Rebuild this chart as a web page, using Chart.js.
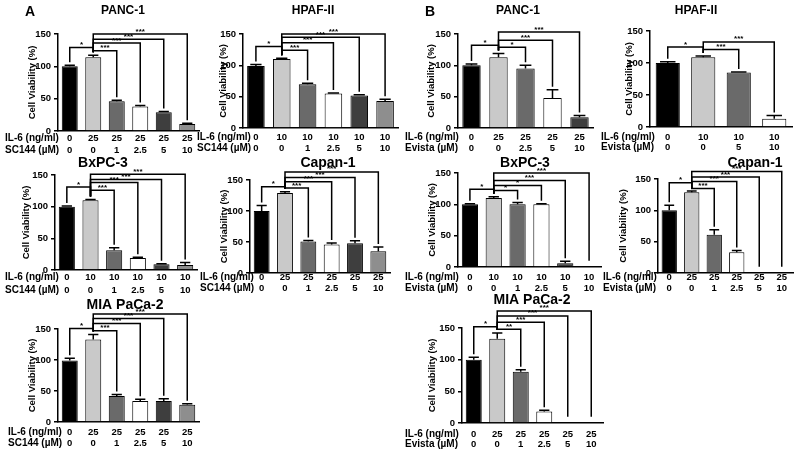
<!DOCTYPE html>
<html><head><meta charset="utf-8">
<script src="https://cdn.jsdelivr.net/npm/chart.js@4"></script>
<style>
html,body{margin:0;padding:0;background:#fff;}
#wrap{position:relative;width:800px;height:453px;overflow:hidden;background:#fff;}
#wrap canvas{position:absolute;left:0;top:0;}
</style></head><body><div id="wrap"></div>
<script>
// ---------- DATA ----------
// Panel A : SC144
const aPanc1Il6 = ['0','25','25','25','25','25'];
const aPanc1Drug = ['0','0','1','2.5','5','10'];
const aPanc1Mean = [100,114,46,38,29,11];
const aPanc1Err = [1.5,3,1.5,1.5,1,1];
const aPanc1SigPairs = [[0,1],[1,2],[1,3],[1,4],[1,5]];
const aPanc1SigLevels = [129,124,136,142,150];
const aPanc1SigLabels = ['*','***','***','***','***'];

const aHpafIl6 = ['0','10','10','10','10','10'];
const aHpafDrug = ['0','0','1','2.5','5','10'];
const aHpafMean = [99,110,70,55,52,43];
const aHpafErr = [2.5,1.5,1.5,1,1,3];
const aHpafSigPairs = [[0,1],[1,2],[1,3],[1,4],[1,5]];
const aHpafSigLevels = [130,124,136,145,150];
const aHpafSigLabels = ['*','***','***','***','***'];

const aBxpcIl6 = ['0','10','10','10','10','10'];
const aBxpcDrug = ['0','0','1','2.5','5','10'];
const aBxpcMean = [100,110,31,19,9,8];
const aBxpcErr = [1,1.5,4,1,1,4];
const aBxpcSigPairs = [[0,1],[1,2],[1,3],[1,4],[1,5]];
const aBxpcSigLevels = [131,126,138,143,151];
const aBxpcSigLabels = ['*','***','***','***','***'];

const aCapanIl6 = ['0','25','25','25','25','25'];
const aCapanDrug = ['0','0','1','2.5','5','10'];
const aCapanMean = [100,129,51,46,48,35];
const aCapanErr = [9,2,1.5,2.5,4,7];
const aCapanSigPairs = [[0,1],[1,2],[1,3],[1,4],[1,5]];
const aCapanSigLevels = [139,137,147,154,163];
const aCapanSigLabels = ['*','***','***','***','***'];

const aMiaIl6 = ['0','25','25','25','25','25'];
const aMiaDrug = ['0','0','1','2.5','5','10'];
const aMiaMean = [99,133,42,34,34,28];
const aMiaErr = [4,8,2.5,2.5,3.5,1.5];
const aMiaSigPairs = [[0,1],[1,2],[1,3],[1,4],[1,5]];
const aMiaSigLevels = [151,147,159,167,174];
const aMiaSigLabels = ['*','***','***','***','***'];

// Panel B : Evista
const bPanc1Il6 = ['0','25','25','25','25'];
const bPanc1Drug = ['0','0','2.5','5','10'];
const bPanc1Mean = [100,113,95,48,17];
const bPanc1Err = [2,6,5,13,3];
const bPanc1SigPairs = [[0,1],[1,2],[1,3],[1,4]];
const bPanc1SigLevels = [132,129,140,153];
const bPanc1SigLabels = ['*','*','***','***'];

const bHpafIl6 = ['0','10','10','10'];
const bHpafDrug = ['0','0','5','10'];
const bHpafMean = [100,109,85,13];
const bHpafErr = [2,2,1,5];
const bHpafSigPairs = [[0,1],[1,2],[1,3]];
const bHpafSigLevels = [125,121,133];
const bHpafSigLabels = ['*','***','***'];

const bBxpcIl6 = ['0','10','10','10','10','10'];
const bBxpcDrug = ['0','0','1','2.5','5','10'];
const bBxpcMean = [100,110,100,100,6,0];
const bBxpcErr = [1,2,3,1,3,0];
const bBxpcSigPairs = [[0,1],[1,2],[1,3],[1,4],[1,5]];
const bBxpcSigLevels = [124,122,130,138,150];
const bBxpcSigLabels = ['*','*','*','***','***'];

const bCapanIl6 = ['0','25','25','25','25','25'];
const bCapanDrug = ['0','0','1','2.5','5','10'];
const bCapanMean = [100,129,61,33,0,0];
const bCapanErr = [8,2,8,3,0,0];
const bCapanSigPairs = [[0,1],[1,2],[1,3],[1,4],[1,5]];
const bCapanSigLevels = [144,135,146,153,162];
const bCapanSigLabels = ['*','***','***','***','***'];

const bMiaIl6 = ['0','25','25','25','25','25'];
const bMiaDrug = ['0','0','1','2.5','5','10'];
const bMiaMean = [100,133,81,18,0,0];
const bMiaErr = [4,9,3,2,0,0];
const bMiaSigPairs = [[0,1],[1,2],[1,3],[1,4],[1,5]];
const bMiaSigLevels = [152,148,159,169,177];
const bMiaSigLabels = ['*','**','***','***','***'];

const yTicks = [0,50,100,150];
const yTitle = 'Cell Viability (%)';
const il6RowTitle = 'IL-6 (ng/ml)';
const sc144RowTitle = 'SC144 (\u00b5M)';
const evistaRowTitle = 'Evista (\u00b5M)';

// ---------- STYLE / LAYOUT ----------
const PALETTE = ['#000000','#c9c9c9','#6a6a6a','#ffffff','#3e3e3e','#8e8e8e'];
const FONT = '"Liberation Sans", Arial, Helvetica, sans-serif';
const YW = 40, XH = 1;

const panels = [
 {title:'PANC-1', big:false, tx:123, ty:11, L:58, R:199, T:34, B:131, ytx:32, rowX:5, r1:138, r2:150, drugTitle:sc144RowTitle,
  il6:aPanc1Il6, drug:aPanc1Drug, mean:aPanc1Mean, err:aPanc1Err, pairs:aPanc1SigPairs, levels:aPanc1SigLevels, labels:aPanc1SigLabels},
 {title:'HPAF-II', big:false, tx:313, ty:11, L:243, R:398, T:34, B:128, ytx:223, rowX:197, r1:137, r2:148, drugTitle:sc144RowTitle,
  il6:aHpafIl6, drug:aHpafDrug, mean:aHpafMean, err:aHpafErr, pairs:aHpafSigPairs, levels:aHpafSigLevels, labels:aHpafSigLabels},
 {title:'PANC-1', big:false, tx:518, ty:11, L:458, R:593, T:34, B:128, ytx:431, rowX:405, r1:137, r2:148, drugTitle:evistaRowTitle,
  il6:bPanc1Il6, drug:bPanc1Drug, mean:bPanc1Mean, err:bPanc1Err, pairs:bPanc1SigPairs, levels:bPanc1SigLevels, labels:bPanc1SigLabels},
 {title:'HPAF-II', big:false, tx:696, ty:11, L:650, R:792, T:31, B:127, ytx:629, rowX:601, r1:137, r2:147, drugTitle:evistaRowTitle,
  il6:bHpafIl6, drug:bHpafDrug, mean:bHpafMean, err:bHpafErr, pairs:bHpafSigPairs, levels:bHpafSigLevels, labels:bHpafSigLabels},
 {title:'BxPC-3', big:true, tx:103, ty:163, L:55, R:197, T:175, B:270, ytx:26, rowX:5, r1:277, r2:290, drugTitle:sc144RowTitle,
  il6:aBxpcIl6, drug:aBxpcDrug, mean:aBxpcMean, err:aBxpcErr, pairs:aBxpcSigPairs, levels:aBxpcSigLevels, labels:aBxpcSigLabels},
 {title:'Capan-1', big:true, tx:328, ty:163, L:250, R:390, T:180, B:273, ytx:224, rowX:200, r1:277, r2:288, drugTitle:sc144RowTitle,
  il6:aCapanIl6, drug:aCapanDrug, mean:aCapanMean, err:aCapanErr, pairs:aCapanSigPairs, levels:aCapanSigLevels, labels:aCapanSigLabels},
 {title:'BxPC-3', big:true, tx:525, ty:163, L:458, R:601, T:173, B:267, ytx:432, rowX:405, r1:277, r2:288, drugTitle:evistaRowTitle,
  il6:bBxpcIl6, drug:bBxpcDrug, mean:bBxpcMean, err:bBxpcErr, pairs:bBxpcSigPairs, levels:bBxpcSigLevels, labels:bBxpcSigLabels},
 {title:'Capan-1', big:true, tx:755, ty:163, L:658, R:793, T:179, B:273, ytx:623, rowX:603, r1:277, r2:288, drugTitle:evistaRowTitle,
  il6:bCapanIl6, drug:bCapanDrug, mean:bCapanMean, err:bCapanErr, pairs:bCapanSigPairs, levels:bCapanSigLevels, labels:bCapanSigLabels},
 {title:'MIA PaCa-2', big:true, tx:125, ty:305, L:58, R:199, T:329, B:422, ytx:32, rowX:8, r1:432, r2:443, drugTitle:sc144RowTitle,
  il6:aMiaIl6, drug:aMiaDrug, mean:aMiaMean, err:aMiaErr, pairs:aMiaSigPairs, levels:aMiaSigLevels, labels:aMiaSigLabels},
 {title:'MIA PaCa-2', big:true, tx:532, ty:300, L:462, R:603, T:328, B:423, ytx:432, rowX:405, r1:434, r2:444, drugTitle:evistaRowTitle,
  il6:bMiaIl6, drug:bMiaDrug, mean:bMiaMean, err:bMiaErr, pairs:bMiaSigPairs, levels:bMiaSigLevels, labels:bMiaSigLabels}
];

const wrap = document.getElementById('wrap');

function annotPlugin(p, idx) {
  return {
    id: 'annot' + idx,
    afterDraw(chart) {
      const ctx = chart.ctx, xs = chart.scales.x, ys = chart.scales.y;
      const meta = chart.getDatasetMeta(0);
      ctx.save();
      ctx.strokeStyle = '#000'; ctx.fillStyle = '#000';
      ctx.lineWidth = 1.5; ctx.lineCap = 'butt';
      // error bars (upper)
      p.mean.forEach((v, i) => {
        const e = p.err[i]; if (!e || !v) return;
        const cx = xs.getPixelForValue(i);
        const bw = meta.data[i].width;
        const cap = bw * 0.32;
        const y0 = ys.getPixelForValue(v), y1 = ys.getPixelForValue(v + e);
        ctx.beginPath(); ctx.moveTo(cx, y0); ctx.lineTo(cx, y1);
        ctx.moveTo(cx - cap, y1); ctx.lineTo(cx + cap, y1); ctx.stroke();
      });
      // significance brackets
      const legEnd = (i) => {
        const top = p.mean[i] + p.err[i];
        if (p.mean[i] < 3) return ys.getPixelForValue(10);
        return ys.getPixelForValue(top) - 3;
      };
      p.pairs.forEach((pr, k) => {
        const [a, b] = pr;
        const xa = xs.getPixelForValue(a), xb = xs.getPixelForValue(b);
        const yl = ys.getPixelForValue(p.levels[k]);
        ctx.beginPath();
        ctx.moveTo(xa, legEnd(a)); ctx.lineTo(xa, yl); ctx.lineTo(xb, yl); ctx.lineTo(xb, legEnd(b));
        ctx.stroke();
        ctx.font = 'bold 8px ' + FONT; ctx.textAlign = 'center'; ctx.textBaseline = 'alphabetic';
        ctx.fillText(p.labels[k], (xa + xb) / 2, yl - 0.5);
      });
      // title
      ctx.textAlign = 'center'; ctx.textBaseline = 'middle';
      ctx.font = (p.big ? 'bold 14px ' : 'bold 12px ') + FONT;
      ctx.fillText(p.title, p.tx, p.ty);
      // y title
      ctx.save();
      ctx.translate(p.ytx, (p.T + p.B) / 2);
      ctx.rotate(-Math.PI / 2);
      ctx.font = 'bold 9.5px ' + FONT;
      ctx.fillText(yTitle, 0, 0);
      ctx.restore();
      // x rows
      ctx.font = 'bold 10px ' + FONT; ctx.textAlign = 'left';
      ctx.fillText(il6RowTitle, p.rowX, p.r1);
      ctx.fillText(p.drugTitle, p.rowX, p.r2);
      ctx.font = 'bold 9.5px ' + FONT; ctx.textAlign = 'center';
      p.il6.forEach((t, i) => {
        const cx = xs.getPixelForValue(i);
        ctx.fillText(t, cx, p.r1);
        ctx.fillText(p.drug[i], cx, p.r2);
      });
      ctx.restore();
    }
  };
}

panels.forEach((p, idx) => {
  const c = document.createElement('canvas');
  c.width = 800; c.height = 453;
  c.style.width = '800px'; c.style.height = '453px';
  wrap.appendChild(c);
  const n = p.mean.length;
  new Chart(c, {
    type: 'bar',
    data: {
      labels: p.il6.map((v, i) => v + '/' + p.drug[i]),
      datasets: [{
        data: p.mean,
        backgroundColor: PALETTE.slice(0, n),
        borderColor: '#000', borderWidth: 1,
        barPercentage: 0.68, categoryPercentage: 1
      }]
    },
    options: {
      responsive: false, animation: false, devicePixelRatio: 1, events: [],
      layout: { padding: { left: p.L - YW, top: p.T, right: 800 - p.R, bottom: 453 - p.B - XH } },
      plugins: { legend: { display: false }, tooltip: { enabled: false }, title: { display: false } },
      scales: {
        x: {
          grid: { display: false },
          border: { display: true, color: '#000', width: 1.5 },
          ticks: { display: false },
          afterFit: s => { s.height = XH; }
        },
        y: {
          min: yTicks[0], max: yTicks[yTicks.length - 1],
          afterBuildTicks: s => { s.ticks = yTicks.map(v => ({ value: v })); },
          ticks: { color: '#000', font: { size: 9.5, weight: 'bold', family: FONT }, padding: 3 },
          grid: { display: true, drawOnChartArea: false, drawTicks: true, tickLength: 4, color: '#000', lineWidth: 1.5 },
          border: { display: true, color: '#000', width: 1.5 },
          afterFit: s => { s.width = YW; }
        }
      }
    },
    plugins: [annotPlugin(p, idx)]
  });
});

// panel letters
const lc = document.createElement('canvas');
lc.width = 800; lc.height = 453; wrap.appendChild(lc);
const lctx = lc.getContext('2d');
lctx.fillStyle = '#000'; lctx.font = 'bold 14px ' + FONT; lctx.textBaseline = 'middle';
lctx.fillText('A', 25, 12);
lctx.fillText('B', 425, 12);
</script>
</body></html>
